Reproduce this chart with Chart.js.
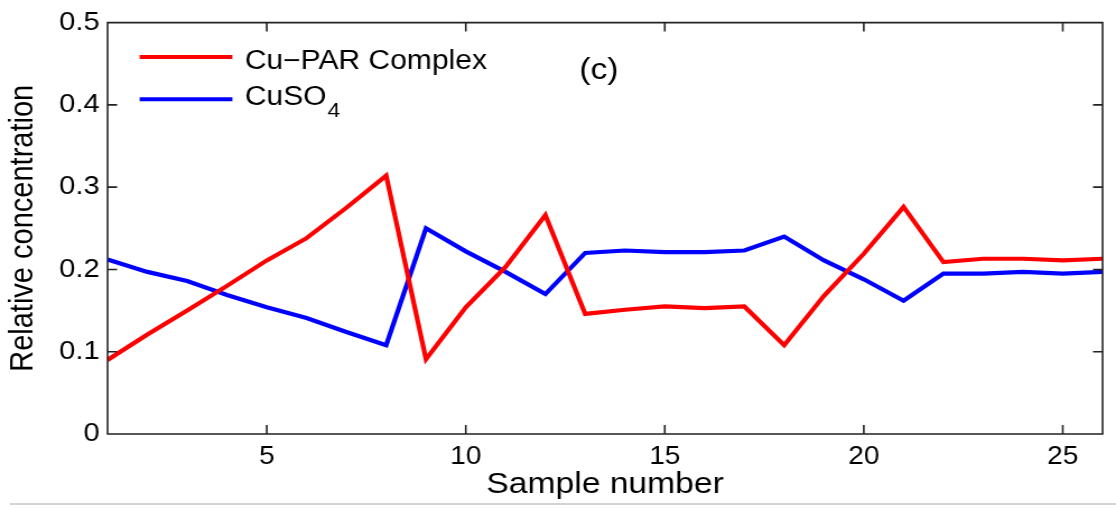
<!DOCTYPE html>
<html>
<head>
<meta charset="utf-8">
<title>Relative concentration</title>
<script src="https://cdn.jsdelivr.net/npm/chart.js@4.4.1/dist/chart.umd.min.js"></script>
<style>
    body { margin: 0; background: #fff; }
    #wrap { position: relative; width: 1116px; height: 508px; overflow: hidden; }
    #chart { transform: scaleX(1.1205); transform-origin: 0 0; }
    #rule { position: absolute; left: 10px; right: 0; top: 503px; height: 2px; background: #d4d4d4; }
</style>
</head>
<body>
<div id="wrap">
    <canvas id="chart" width="996" height="508"></canvas>
    <div id="rule"></div>
</div>
<script>
const sampleNumbers = [1, 2, 3, 4, 5, 6, 7, 8, 9, 10, 11, 12, 13, 14, 15, 16, 17, 18, 19, 20, 21, 22, 23, 24, 25, 26]
const cuParComplex = [0.090, 0.121, 0.150, 0.180, 0.211, 0.238, 0.275, 0.314, 0.091, 0.154,
                      0.203, 0.266, 0.146, 0.151, 0.155, 0.153, 0.155, 0.108, 0.168, 0.219,
                      0.276, 0.209, 0.213, 0.213, 0.211, 0.213]
const cuSO4 = [0.212, 0.197, 0.186, 0.169, 0.154, 0.141, 0.124, 0.108, 0.250, 0.222,
               0.197, 0.170, 0.220, 0.223, 0.221, 0.221, 0.223, 0.240, 0.211, 0.188,
               0.162, 0.195, 0.195, 0.197, 0.195, 0.197]
const seriesNames = ["Cu\u2212PAR Complex", "CuSO4"]
const xTickValues = [5, 10, 15, 20, 25]
const yTickValues = [0, 0.1, 0.2, 0.3, 0.4, 0.5]
const panelTag = "(c)"

const FONT = "'Liberation Sans', Arial, Helvetica, sans-serif"

// matlab style box: full frame plus inward ticks on all four sides
const boxTicks = {
    id: 'boxTicks',
    afterDraw(chart) {
        const {ctx, chartArea: a, scales: {x, y}} = chart
        ctx.save()
        ctx.strokeStyle = '#222'
        ctx.lineWidth = 1.6
        ctx.beginPath()
        ctx.rect(a.left, a.top, a.right - a.left, a.bottom - a.top)
        for (let t of x.ticks) {
            const px = x.getPixelForValue(t.value)
            ctx.moveTo(px, a.bottom); ctx.lineTo(px, a.bottom - 9)
            ctx.moveTo(px, a.top); ctx.lineTo(px, a.top + 9)
        }
        for (let t of y.ticks) {
            const py = y.getPixelForValue(t.value)
            ctx.moveTo(a.left, py); ctx.lineTo(a.left + 8.5, py)
            ctx.moveTo(a.right, py); ctx.lineTo(a.right - 8.5, py)
        }
        ctx.stroke()
        ctx.restore()
    }
}

// legend inside the axes, trailing digits drawn as subscript
const insideLegend = {
    id: 'insideLegend',
    afterDraw(chart) {
        const {ctx, chartArea: a} = chart
        const lineY = [34.3, 76.7]
        const baseY = [46, 82.7]
        ctx.save()
        chart.data.datasets.forEach((ds, i) => {
            ctx.strokeStyle = ds.borderColor
            ctx.lineWidth = 4
            ctx.beginPath()
            ctx.moveTo(a.left + 28.6, a.top + lineY[i])
            ctx.lineTo(a.left + 111.4, a.top + lineY[i])
            ctx.stroke()

            const m = ds.label.match(/^(.*?)(\d+)$/)
            const main = m ? m[1] : ds.label
            const tx = a.left + 122.4
            const ty = a.top + baseY[i]
            ctx.fillStyle = '#000'
            ctx.textBaseline = 'alphabetic'
            ctx.textAlign = 'left'
            ctx.font = "26.8px " + FONT
            ctx.fillText(main, tx, ty)
            if (m) {
                const w = ctx.measureText(main).width
                ctx.font = "20.5px " + FONT
                ctx.fillText(m[2], tx + w + 1, ty + 11.5)
            }
        })
        ctx.font = "30px " + FONT
        ctx.textAlign = 'center'
        ctx.fillText(panelTag, 534.6, 78.7)
        ctx.restore()
    }
}

Chart.defaults.font.family = FONT
Chart.defaults.color = '#000'

const chart = new Chart("chart", {
    type: "line",
    data: {
        labels: sampleNumbers,
        datasets: [
            {
                label: seriesNames[0],
                borderColor: 'rgb(255, 0, 0)',
                borderWidth: 4.2,
                fill: false,
                data: cuParComplex,
            },
            {
                label: seriesNames[1],
                borderColor: 'rgb(0, 0, 255)',
                borderWidth: 4.2,
                fill: false,
                data: cuSO4,
            }
        ]
    },
    options: {
        responsive: false,
        animation: false,
        devicePixelRatio: 1,
        layout: {padding: {left: 0, right: 12, top: 19, bottom: 0}},
        elements: {
            line: {tension: 0},
            point: {radius: 0}
        },
        plugins: {
            legend: {display: false},
            tooltip: {enabled: false}
        },
        scales: {
            x: {
                type: 'linear',
                min: 1,
                max: 26,
                afterBuildTicks: (scale) => { scale.ticks = xTickValues.map(v => ({value: v})) },
                afterFit: (scale) => { scale.height = 74 },
                grid: {display: false, drawTicks: false},
                border: {display: false},
                ticks: {font: {size: 25}, padding: 8, maxRotation: 0},
                title: {display: true, text: 'Sample number', font: {size: 30}, padding: {top: 0, bottom: 5.5}}
            },
            y: {
                type: 'linear',
                min: 0,
                max: 0.5,
                afterBuildTicks: (scale) => { scale.ticks = yTickValues.map(v => ({value: v})) },
                afterFit: (scale) => { scale.width = 96 },
                grid: {display: false, drawTicks: false},
                border: {display: false},
                ticks: {font: {size: 26}, padding: 7, callback: (v) => String(v)},
                title: {display: true, text: 'Relative concentration', font: {size: 29}, padding: {top: 3.8, bottom: 0}}
            }
        }
    },
    plugins: [boxTicks, insideLegend]
})
</script>
</body>
</html>
